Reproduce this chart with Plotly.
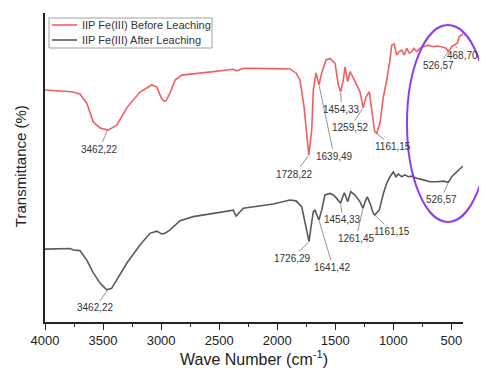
import plotly.graph_objects as go

# ---- data ----
before_wn = [4000, 3770, 3699, 3641, 3584, 3526, 3457, 3382, 3296, 3182, 3081, 3038, 2995, 2975, 2958,
             2923, 2880, 2823, 2607, 2378, 2349, 2292, 2062, 1890, 1838, 1804, 1769, 1746, 1728, 1703,
             1689, 1666, 1640, 1617, 1580, 1545, 1517, 1502, 1474, 1454, 1431, 1416, 1393, 1373, 1345,
             1310, 1287, 1260, 1235, 1207, 1186, 1161, 1143, 1115, 1086, 1057, 1029, 1014, 994, 971,
             949, 928, 906, 885, 863, 842, 822, 799, 770, 742, 699, 656, 627, 584, 546, 527, 497, 469,
             449, 432, 411, 400]
before_T = [75.1, 74.5, 73.8, 70.9, 64.7, 62.8, 62.1, 63.7, 69.3, 74.4, 76.7, 76.1, 72.2, 71.5, 71.6,
            74.1, 78.3, 79.9, 80.8, 81.8, 81.3, 82.1, 82.0, 81.9, 80.6, 78.3, 69.7, 60.0, 54.0, 62.1,
            75.1, 80.6, 76.7, 80.6, 84.8, 85.3, 84.2, 83.7, 76.7, 74.4, 78.3, 82.6, 77.8, 81.0, 79.0,
            76.1, 74.5, 69.3, 72.9, 74.5, 68.6, 61.6, 61.1, 64.4, 72.9, 78.3, 84.8, 89.6, 90.0, 86.4,
            87.5, 88.0, 86.4, 88.6, 87.0, 87.5, 88.6, 87.5, 88.6, 89.1, 89.6, 89.1, 89.3, 89.1, 88.6,
            87.5, 89.1, 89.6, 90.2, 92.4, 92.9, 93.2]

after_wn = [4000, 3785, 3756, 3699, 3641, 3584, 3526, 3469, 3426, 3354, 3296, 3182, 3096, 3038, 2995,
            2967, 2923, 2837, 2723, 2378, 2355, 2292, 2034, 1890, 1838, 1789, 1761, 1726, 1709, 1689,
            1675, 1641, 1617, 1589, 1545, 1517, 1488, 1454, 1445, 1422, 1393, 1367, 1330, 1287, 1261,
            1244, 1224, 1201, 1173, 1161, 1121, 1086, 1057, 1029, 1000, 977, 957, 928, 900, 871, 842,
            799, 742, 684, 627, 570, 527, 497, 454, 411, 400]
after_T = [23.6, 23.8, 23.3, 23.1, 20.1, 15.9, 12.6, 10.4, 10.9, 15.2, 19.0, 24.9, 28.7, 29.4, 28.5,
           28.7, 29.8, 32.8, 34.1, 36.2, 34.3, 36.8, 38.2, 39.5, 39.2, 37.3, 32.5, 26.0, 30.8, 35.7,
           36.2, 33.0, 36.2, 41.1, 41.6, 41.1, 40.0, 38.4, 39.5, 41.8, 38.9, 42.2, 41.1, 38.9, 36.8,
           38.9, 40.5, 38.4, 35.2, 34.6, 36.2, 41.6, 44.9, 47.0, 48.6, 47.0, 47.9, 47.0, 47.6, 47.0, 47.2,
           46.5, 46.0, 45.4, 45.4, 45.6, 45.2, 47.0, 48.6, 50.1, 50.5]

series_names = ["IIP Fe(III) Before Leaching", "IIP Fe(III) After Leaching"]

# peak labels: text, wavenumber, transmittance at the tip
before_labels = ["3462,22", "1728,22", "1639,49", "1454,33", "1259,52", "1161,15", "526,57", "468,70"]
before_peak_wn = [3462, 1728, 1640, 1454, 1260, 1161, 527, 469]
before_peak_T = [62.1, 54.0, 76.7, 74.4, 69.3, 61.6, 87.5, 89.6]

after_labels = ["3462,22", "1726,29", "1641,42", "1454,33", "1261,45", "1161,15", "526,57"]
after_peak_wn = [3462, 1726, 1641, 1454, 1261, 1161, 527]
after_peak_T = [10.4, 26.0, 33.0, 38.4, 36.8, 34.6, 45.2]

x_ticks = [4000, 3500, 3000, 2500, 2000, 1500, 1000, 500]

# ---- styling / layout ----
RED = "#F25F5F"
GRAY = "#5A5A5A"
FONT = "Arial"

before_offsets = [(-8, 19), (-14, 19), (15, 71), (1, 17), (-13, 20), (18, 15), (-10, 14), (8, 10)]
after_offsets = [(-12, 18), (-17, 17), (14, 47), (2, 16), (-7, 30), (17, 16), (-7, 17)]

fig = go.Figure()
fig.add_trace(go.Scatter(x=before_wn, y=before_T, mode="lines", name=series_names[0],
                         line=dict(color=RED, width=1.6), showlegend=False))
fig.add_trace(go.Scatter(x=after_wn, y=after_T, mode="lines", name=series_names[1],
                         line=dict(color=GRAY, width=1.6), showlegend=False))

annotations = []
for lab, xw, yt, (ax, ay) in list(zip(before_labels, before_peak_wn, before_peak_T, before_offsets)) + \
        list(zip(after_labels, after_peak_wn, after_peak_T, after_offsets)):
    annotations.append(dict(x=xw, y=yt, xref="x", yref="y", text=lab, showarrow=True,
                            arrowhead=0, arrowwidth=0.8, arrowcolor="#777777", ax=ax, ay=ay,
                            standoff=1, font=dict(family=FONT, size=10, color="#333333")))

# hand-built legend (compact, like the reference)
legend_y = [0.9612, 0.9126]
legend_colors = [RED, GRAY]
shapes = [dict(type="rect", xref="paper", yref="paper", x0=0.0096, x1=0.3995, y0=0.8867, y1=0.9838,
               line=dict(color="#A0A0A0", width=1), fillcolor="white", layer="above")]
for name, ly, col in zip(series_names, legend_y, legend_colors):
    shapes.append(dict(type="line", xref="paper", yref="paper", x0=0.0167, x1=0.0766, y0=ly, y1=ly,
                       line=dict(color=col, width=1.6), layer="above"))
    annotations.append(dict(x=0.0837, y=ly, xref="paper", yref="paper", text=name, showarrow=False,
                            xanchor="left", yanchor="middle",
                            font=dict(family=FONT, size=11, color="#333333")))

# y-axis title placed as a rotated annotation
annotations.append(dict(x=-0.057, y=0.505, xref="paper", yref="paper", text="Transmittance (%)",
                        showarrow=False, textangle=-90, xanchor="center", yanchor="middle",
                        font=dict(family=FONT, size=15, color="#222222")))

shapes.append(dict(type="circle", xref="paper", yref="paper",
                   x0=0.866, x1=1.062, y0=0.324, y1=0.961,
                   line=dict(color="#8A3FF0", width=2)))

fig.update_layout(
    width=479, height=362,
    margin=dict(l=37, r=24, t=5, b=48),
    paper_bgcolor="white", plot_bgcolor="white",
    font=dict(family=FONT, color="#222222"),
    showlegend=False,
    annotations=annotations,
    shapes=shapes,
    xaxis=dict(range=[4000, 400], tickvals=x_ticks, ticktext=[str(v) for v in x_ticks],
               showgrid=False, zeroline=False, showline=True, linecolor="#222222", linewidth=1.5,
               ticks="outside", ticklen=6, tickwidth=1.2, tickcolor="#222222",
               minor=dict(ticks="outside", ticklen=3, tickwidth=1, tickcolor="#222222", dtick=250,
                          tick0=4000, showgrid=False),
               tickfont=dict(family=FONT, size=13, color="#222222"),
               title=dict(text="Wave Number (cm<sup>-1</sup>)", font=dict(family=FONT, size=16, color="#222222"),
                          standoff=2),
               automargin=False),
    yaxis=dict(range=[0, 100], showgrid=False, zeroline=False, showline=True, linecolor="#222222",
               linewidth=1.5, showticklabels=False, ticks="", automargin=False),
)

fig.write_html("out.html")
